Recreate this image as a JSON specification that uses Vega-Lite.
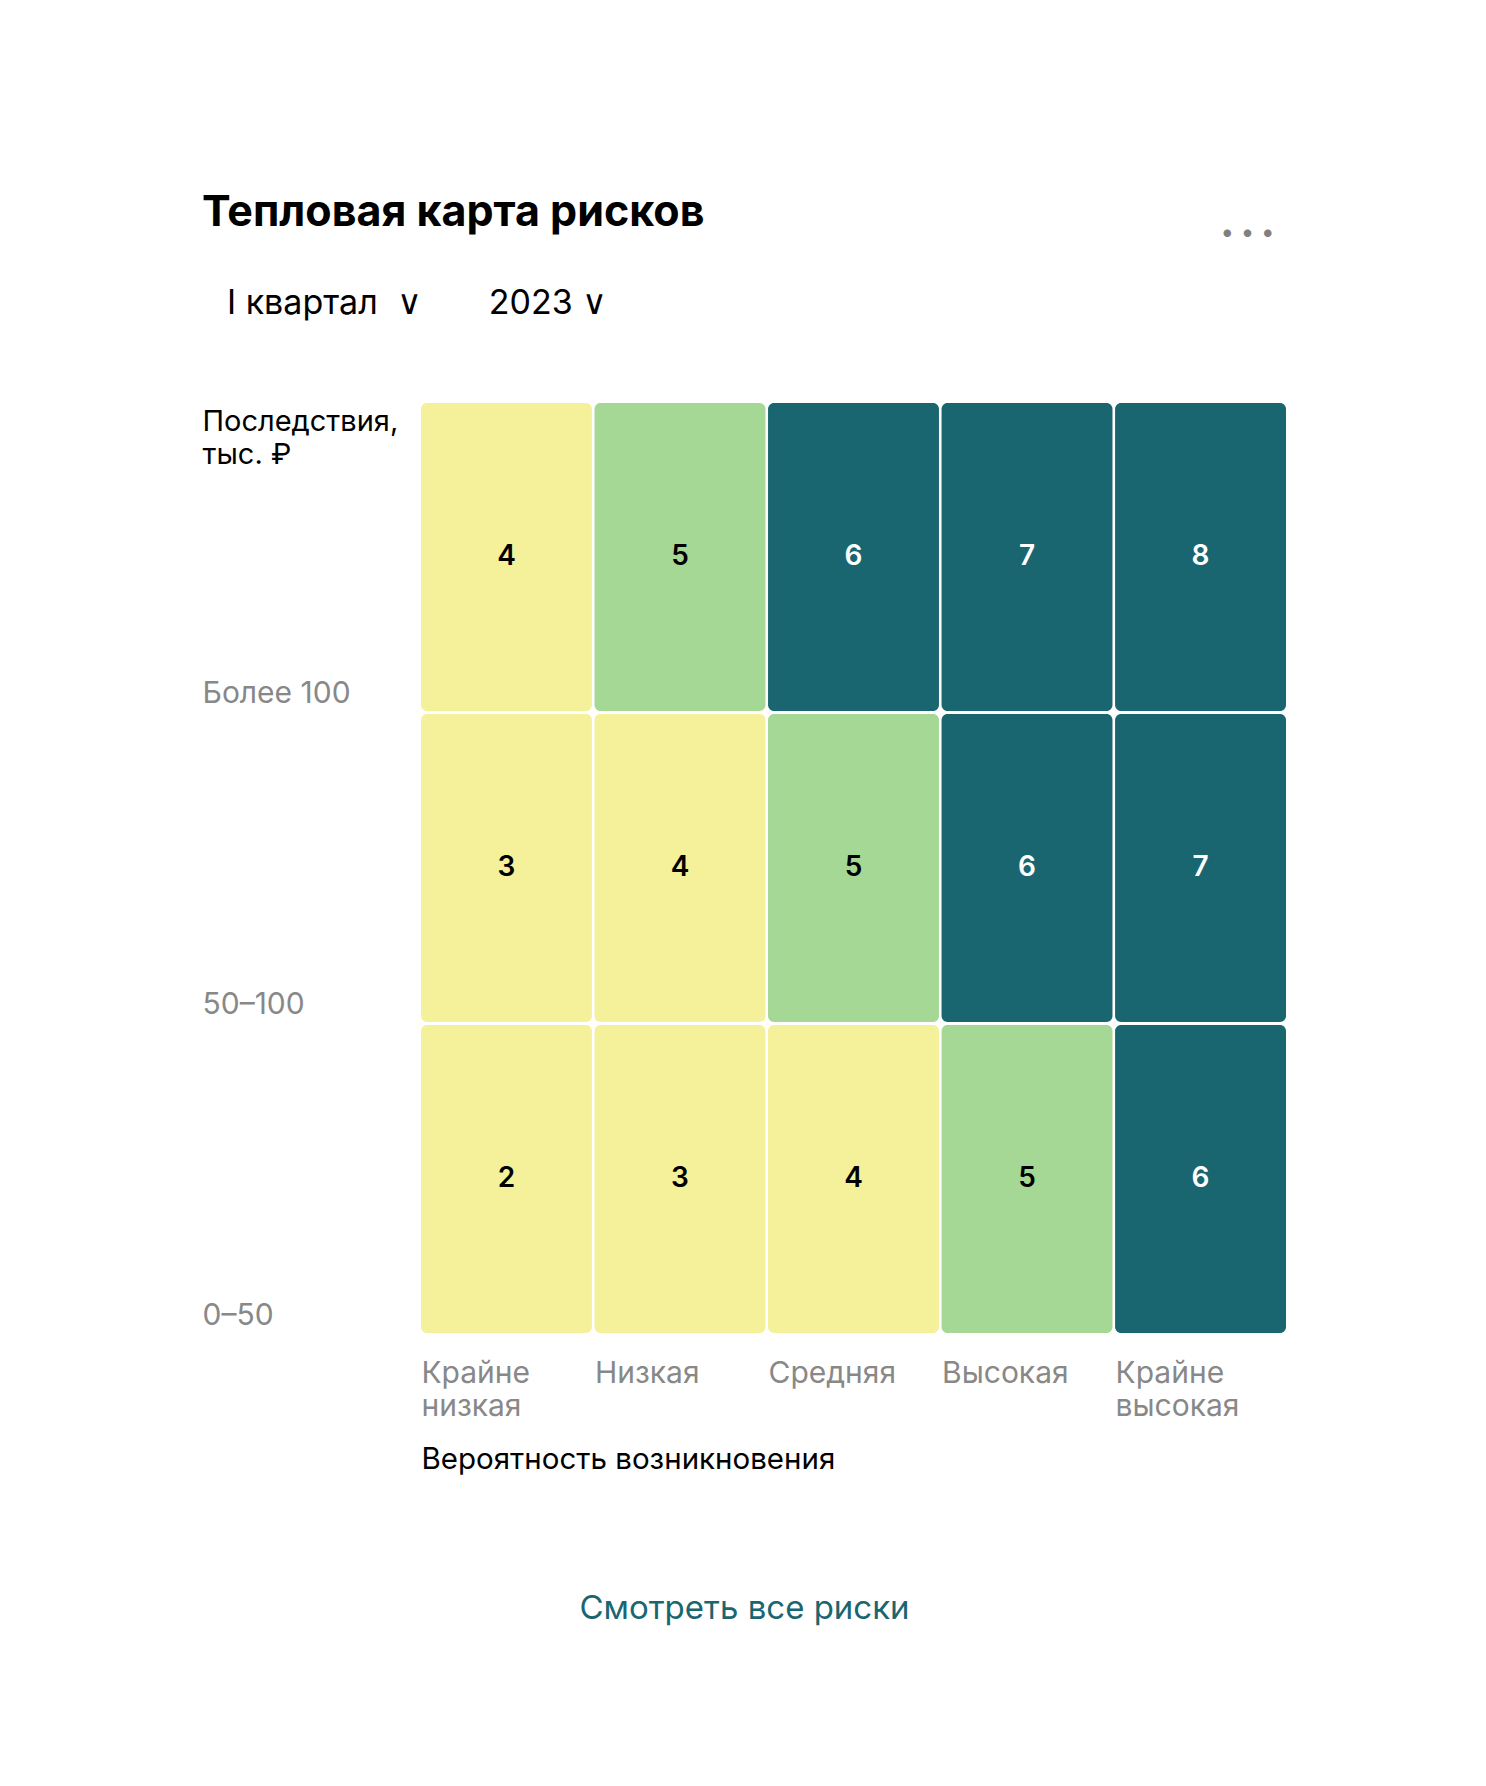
{
  "$schema": "https://vega.github.io/schema/vega-lite/v6.json",
  "width": 865,
  "height": 930,
  "autosize": {"type": "none"},
  "padding": {"left": 421, "top": 403, "right": 200, "bottom": 453},
  "background": "#ffffff",
  "config": {"font": "Inter", "view": {"stroke": null}},
  "title": {
    "text": "Тепловая карта рисков",
    "subtitle": "⠀I квартал\u00a0\u00a0∨\u00a0\u00a0\u00a0\u00a0\u00a0\u00a0\u00a02023\u00a0∨",
    "anchor": "start",
    "frame": "bounds",
    "fontSize": 43,
    "fontWeight": 700,
    "color": "#000000",
    "subtitleFontSize": 34,
    "subtitleColor": "#000000",
    "subtitlePadding": 52,
    "offset": -101
  },
  "data": {
    "values": [
      {"prob": "Крайне низкая", "cons": "Более 100", "score": 4},
      {"prob": "Низкая", "cons": "Более 100", "score": 5},
      {"prob": "Средняя", "cons": "Более 100", "score": 6},
      {"prob": "Высокая", "cons": "Более 100", "score": 7},
      {"prob": "Крайне высокая", "cons": "Более 100", "score": 8},
      {"prob": "Крайне низкая", "cons": "50–100", "score": 3},
      {"prob": "Низкая", "cons": "50–100", "score": 4},
      {"prob": "Средняя", "cons": "50–100", "score": 5},
      {"prob": "Высокая", "cons": "50–100", "score": 6},
      {"prob": "Крайне высокая", "cons": "50–100", "score": 7},
      {"prob": "Крайне низкая", "cons": "0–50", "score": 2},
      {"prob": "Низкая", "cons": "0–50", "score": 3},
      {"prob": "Средняя", "cons": "0–50", "score": 4},
      {"prob": "Высокая", "cons": "0–50", "score": 5},
      {"prob": "Крайне высокая", "cons": "0–50", "score": 6}
    ]
  },
  "layer": [
    {
      "mark": {"type": "rect", "cornerRadius": 6},
      "encoding": {
        "x": {
          "field": "prob", "type": "nominal",
          "sort": ["Крайне низкая", "Низкая", "Средняя", "Высокая", "Крайне высокая"],
          "scale": {"paddingInner": 0.015, "paddingOuter": 0},
          "axis": {
            "orient": "bottom",
            "domain": false, "ticks": false, "tickSize": 0, "grid": false,
            "labelAngle": 0,
            "labelAlign": "left", "labelBaseline": "alphabetic",
            "labelPadding": 49,
            "labelOffset": -85,
            "labelFontSize": 30, "labelColor": "#888888",
            "labelLineHeight": 33,
            "labelLimit": 400,
            "labelExpr": "split(datum.label, ' ')",
            "title": "Вероятность возникновения",
            "titleFontSize": 29.5, "titleFontWeight": "normal", "titleColor": "#000000",
            "titleAnchor": "start", "titleAlign": "left", "titleBaseline": "alphabetic",
            "titleX": 0, "titleY": 135
          }
        },
        "y": {
          "field": "cons", "type": "nominal",
          "sort": ["Более 100", "50–100", "0–50"],
          "scale": {"paddingInner": 0.01, "paddingOuter": 0},
          "axis": {
            "orient": "left",
            "domain": false, "ticks": false, "tickSize": 0, "grid": false,
            "labelAlign": "left", "labelBaseline": "alphabetic",
            "labelPadding": 219,
            "labelOffset": 146,
            "labelFontSize": 30, "labelColor": "#888888",
            "labelLimit": 400,
            "title": ["Последствия,", "тыс. ₽"],
            "titleFontSize": 29, "titleFontWeight": "normal", "titleColor": "#000000",
            "titleAngle": 0, "titleAlign": "left", "titleBaseline": "alphabetic",
            "titleLineHeight": 33,
            "titleX": -219, "titleY": 27
          }
        },
        "color": {
          "field": "score", "type": "quantitative",
          "scale": {"type": "threshold", "domain": [5, 6], "range": ["#F4F19A", "#A5D795", "#1A6670"]},
          "legend": null
        }
      }
    },
    {
      "mark": {"type": "text", "fontSize": 28, "fontWeight": 600, "baseline": "middle", "align": "center"},
      "encoding": {
        "x": {
          "field": "prob", "type": "nominal",
          "sort": ["Крайне низкая", "Низкая", "Средняя", "Высокая", "Крайне высокая"],
          "axis": {
            "orient": "top",
            "domain": false, "ticks": false, "labels": false, "grid": false,
            "title": "• • •",
            "titleFontSize": 24, "titleFontWeight": "normal", "titleColor": "#808080",
            "titleAlign": "center", "titleBaseline": "middle",
            "titleX": 826, "titleY": -171
          }
        },
        "y": {
          "field": "cons", "type": "nominal",
          "sort": ["Более 100", "50–100", "0–50"],
          "axis": {
            "orient": "right",
            "domain": false, "ticks": false, "labels": false, "grid": false,
            "title": "Смотреть все риски",
            "titleFontSize": 33, "titleFontWeight": "normal", "titleColor": "#1A6670",
            "titleAngle": 0, "titleAlign": "center", "titleBaseline": "alphabetic",
            "titleX": -542, "titleY": 1215
          }
        },
        "text": {"field": "score", "type": "quantitative"},
        "color": {
          "condition": {"test": "datum.score >= 6", "value": "#ffffff"},
          "value": "#000000"
        }
      }
    }
  ],
  "resolve": {"axis": {"x": "independent", "y": "independent"}}
}
